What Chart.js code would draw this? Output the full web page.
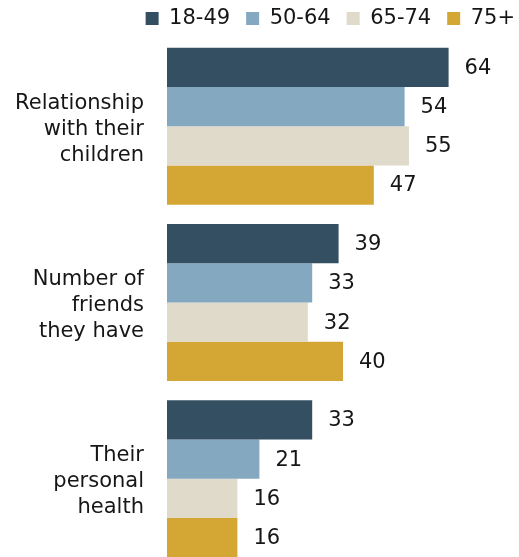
<!DOCTYPE html>
<html>
<head>
<meta charset="utf-8">
<script src="https://cdn.jsdelivr.net/npm/chart.js@4"></script>
<style>
  html, body { margin: 0; padding: 0; background: #fff; overflow: hidden; }
  canvas { display: block; }
</style>
</head>
<body>
<canvas id="ageChart" width="519" height="567"></canvas>
<script>
const categories = [
    ['Relationship', 'with their', 'children'],
    ['Number of', 'friends', 'they have'],
    ['Their', 'personal', 'health']
];
const ageGroups = ['18-49', '50-64', '65-74', '75+'];
const age18to49 = [64, 39, 33];
const age50to64 = [54, 33, 21];
const age65to74 = [55, 32, 16];
const age75plus = [47, 40, 16];

const colors = ['#344f62', '#84a8c0', '#dfdac9', '#d4a633'];
const series = [age18to49, age50to64, age65to74, age75plus];
const FONT = '"DejaVu Sans", Verdana, sans-serif';

// value labels to the right of each bar
const valueLabels = {
    id: 'valueLabels',
    afterDatasetsDraw(chart) {
        const c = chart.ctx;
        c.save();
        c.font = '21px ' + FONT;
        c.fillStyle = '#161616';
        c.textAlign = 'left';
        c.textBaseline = 'middle';
        chart.data.datasets.forEach((ds, i) => {
            chart.getDatasetMeta(i).data.forEach((bar, j) => {
                c.fillText(ds.data[j], bar.x + 16, bar.y + 1);
            });
        });
        c.restore();
    }
};

// fixed legend height so the bars start right under it, and push it to the right edge
const legendFit = {
    id: 'legendFit',
    beforeInit(chart) {
        const origFit = chart.legend.fit;
        chart.legend.fit = function() {
            origFit.bind(chart.legend)();
            this.height = 46;
        };
    },
    afterLayout(chart) {
        chart.legend.right += 12;
    }
};

const ctx = document.getElementById('ageChart').getContext('2d');
const chart = new Chart(ctx, {
    type: 'bar',
    data: {
        labels: categories,
        datasets: ageGroups.map((g, i) => ({
            label: g,
            data: series[i],
            backgroundColor: colors[i],
            borderWidth: 0,
            barPercentage: 1,
            categoryPercentage: 0.89
        }))
    },
    options: {
        indexAxis: 'y',
        responsive: false,
        animation: false,
        layout: { padding: { top: -8, right: 0, bottom: 0, left: 0 } },
        scales: {
            x: {
                display: false,
                min: 0,
                max: 80
            },
            y: {
                grid: { display: false, drawTicks: false },
                border: { display: false },
                ticks: {
                    padding: 23,
                    labelOffset: 3,
                    color: '#161616',
                    font: { family: FONT, size: 21, lineHeight: 1.24 }
                },
                afterFit: function(scale) {
                    scale.width = 167;
                    // multi-line labels sit inside their bands, no extra room needed
                    scale.paddingTop = 0;
                    scale.paddingBottom = 0;
                }
            }
        },
        plugins: {
            legend: {
                position: 'top',
                align: 'end',
                labels: {
                    boxWidth: 13,
                    boxHeight: 13,
                    padding: 16,
                    color: '#161616',
                    font: { family: FONT, size: 21 }
                }
            },
            tooltip: { enabled: false }
        }
    },
    plugins: [valueLabels, legendFit]
});
</script>
</body>
</html>
